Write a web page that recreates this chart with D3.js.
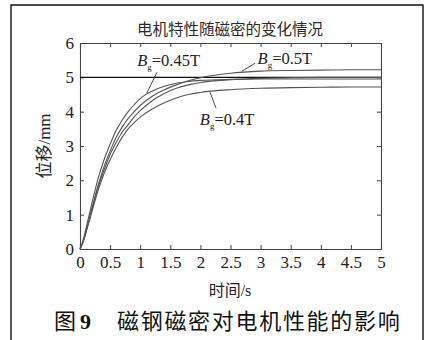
<!DOCTYPE html>
<html>
<head>
<meta charset="utf-8">
<script src="https://cdn.jsdelivr.net/npm/d3@7"></script>
<style>
  html, body { margin: 0; padding: 0; background: #fff; }
  svg { display: block; }
</style>
</head>
<body>
<svg id="chart" width="429" height="340"></svg>
<script>
// Time axis (s)
const timeS = [0, 0.05, 0.1, 0.2, 0.3, 0.4, 0.5, 0.6, 0.7, 0.8, 0.9, 1.0, 1.2, 1.4, 1.6, 1.8, 2.0, 2.5, 3.0, 3.5, 4.0, 4.5, 5.0];

// Displacement (mm) for each air-gap flux density
const dispB045 = [0, 0.25, 0.6, 1.35, 2.05, 2.6, 3.05, 3.45, 3.75, 4.0, 4.2, 4.38, 4.6, 4.74, 4.83, 4.88, 4.91, 4.94, 4.95, 4.95, 4.95, 4.95, 4.95];
const dispB050 = [0, 0.2, 0.5, 1.2, 1.85, 2.4, 2.85, 3.25, 3.55, 3.8, 4.0, 4.18, 4.45, 4.64, 4.78, 4.9, 4.99, 5.12, 5.18, 5.2, 5.21, 5.22, 5.22];
const dispMid  = [0, 0.2, 0.5, 1.15, 1.8, 2.3, 2.75, 3.1, 3.4, 3.62, 3.85, 4.03, 4.32, 4.53, 4.68, 4.78, 4.85, 4.93, 4.97, 4.99, 5.0, 5.0, 5.0];
const dispB040 = [0, 0.2, 0.5, 1.1, 1.7, 2.2, 2.6, 2.95, 3.25, 3.5, 3.68, 3.84, 4.08, 4.26, 4.4, 4.5, 4.56, 4.64, 4.68, 4.7, 4.71, 4.72, 4.72];

// Target displacement line (mm)
const targetMm = 5;

// Axis ticks
const xTicks = [0, 0.5, 1, 1.5, 2, 2.5, 3, 3.5, 4, 4.5, 5];
const xTickLabels = ["0", "0.5", "1", "1.5", "2", "2.5", "3", "3.5", "4", "4.5", "5"];
const yTicks = [0, 1, 2, 3, 4, 5, 6];

// Curve labels: flux value, anchor point on curve (t, mm), text anchor (t, mm)
const labelValues = ["0.45T", "0.5T", "0.4T"];
const labelAnchors = [[1.11, 4.54], [2.69, 5.18], [2.16, 4.57]];
const labelEnds = [[1.28, 5.15], [2.91, 5.41], [2.26, 4.1]];
const labelTextPos = [[0.95, 5.32], [2.95, 5.38], [1.99, 3.6]];

const svg = d3.select("#chart");
const serif = "'Liberation Serif', 'Times New Roman', serif";
const cjk = "'Noto Sans CJK SC', 'Noto Sans', sans-serif";

// Outer frame
svg.append("path")
  .attr("d", "M11,340 L11,5 L423,5 L423,340")
  .attr("fill", "none").attr("stroke", "#111").attr("stroke-width", 1.4);

const x = d3.scaleLinear().domain([0, 5]).range([80, 381]);
const y = d3.scaleLinear().domain([0, 6]).range([249, 43]);

// Title
svg.append("text")
  .attr("x", 230).attr("y", 35)
  .attr("text-anchor", "middle")
  .attr("font-family", cjk).attr("font-size", 15.5).attr("fill", "#2a2a2a")
  .text("电机特性随磁密的变化情况");

// Axes (inward ticks on all four sides)
const axisStroke = "#444";
const gB = svg.append("g").attr("transform", `translate(0,${y(0)})`)
  .call(d3.axisBottom(x).tickValues(xTicks).tickSize(-4).tickFormat((d, i) => xTickLabels[i]));
const gT = svg.append("g").attr("transform", `translate(0,${y(6)})`)
  .call(d3.axisTop(x).tickValues(xTicks).tickSize(-4).tickFormat(""));
const gL = svg.append("g").attr("transform", `translate(${x(0)},0)`)
  .call(d3.axisLeft(y).tickValues(yTicks).tickSize(-4).tickFormat(d3.format("d")));
const gR = svg.append("g").attr("transform", `translate(${x(5)},0)`)
  .call(d3.axisRight(y).tickValues(yTicks).tickSize(-4).tickFormat(""));

[gB, gT, gL, gR].forEach(g => {
  g.select(".domain").attr("stroke", axisStroke).attr("stroke-width", 1.1);
  g.selectAll(".tick line").attr("stroke", axisStroke).attr("stroke-width", 1);
  g.selectAll("text").attr("font-family", serif).attr("font-size", 17).attr("fill", "#222");
});
gB.selectAll(".tick text").attr("dy", null).attr("y", 19).attr("dominant-baseline", "auto");
gL.selectAll(".tick text").attr("x", -6).attr("dy", "0.33em");
// Hide tick marks at the corners so the frame stays clean
[gB, gT].forEach(g => g.selectAll(".tick").filter(d => d === 0 || d === 5).select("line").remove());
[gL, gR].forEach(g => g.selectAll(".tick").filter(d => d === 0 || d === 6).select("line").remove());

// Target line
svg.append("line")
  .attr("x1", x(0)).attr("x2", x(5))
  .attr("y1", y(targetMm)).attr("y2", y(targetMm))
  .attr("stroke", "#111").attr("stroke-width", 1.3);

// Response curves
const line = d3.line()
  .x((d, i) => x(timeS[i]))
  .y(d => y(d))
  .curve(d3.curveMonotoneX);

const series = [dispB040, dispMid, dispB050, dispB045];
svg.append("g").selectAll("path").data(series).join("path")
  .attr("d", line)
  .attr("fill", "none")
  .attr("stroke", "#555")
  .attr("stroke-width", 1.1);

// Curve annotations
labelValues.forEach((val, i) => {
  const [ax, ay] = labelAnchors[i];
  const [ex, ey] = labelEnds[i];
  svg.append("line")
    .attr("x1", x(ax)).attr("y1", y(ay))
    .attr("x2", x(ex)).attr("y2", y(ey))
    .attr("stroke", "#333").attr("stroke-width", 0.9);
  const [tx, ty] = labelTextPos[i];
  const t = svg.append("text")
    .attr("x", x(tx)).attr("y", y(ty))
    .attr("font-family", serif).attr("font-size", 16.5).attr("fill", "#222");
  t.append("tspan").attr("font-style", "italic").text("B");
  t.append("tspan").attr("font-size", 9).attr("dy", 4).text("g");
  t.append("tspan").attr("dy", -4).text("=" + val);
});

// Axis titles
svg.append("text")
  .attr("transform", `translate(50,${(y(0) + y(6)) / 2}) rotate(-90)`)
  .attr("text-anchor", "middle")
  .attr("font-size", 17).attr("fill", "#222")
  .call(t => {
    t.append("tspan").attr("font-family", cjk).text("位移");
    t.append("tspan").attr("font-family", serif).text("/mm");
  });

svg.append("text")
  .attr("x", 230).attr("y", 296)
  .attr("text-anchor", "middle")
  .attr("font-size", 16).attr("fill", "#222")
  .call(t => {
    t.append("tspan").attr("font-family", cjk).text("时间");
    t.append("tspan").attr("font-family", serif).text("/s");
  });

// Figure caption
svg.append("text")
  .attr("x", 54).attr("y", 329)
  .attr("font-size", 22).attr("fill", "#111")
  .call(t => {
    t.append("tspan").attr("font-family", cjk).text("图");
    t.append("tspan").attr("font-family", serif).attr("font-weight", "bold").attr("x", 80).text("9");
    t.append("tspan").attr("font-family", cjk).attr("x", 117).attr("letter-spacing", 1.7).text("磁钢磁密对电机性能的影响");
  });
</script>
</body>
</html>
